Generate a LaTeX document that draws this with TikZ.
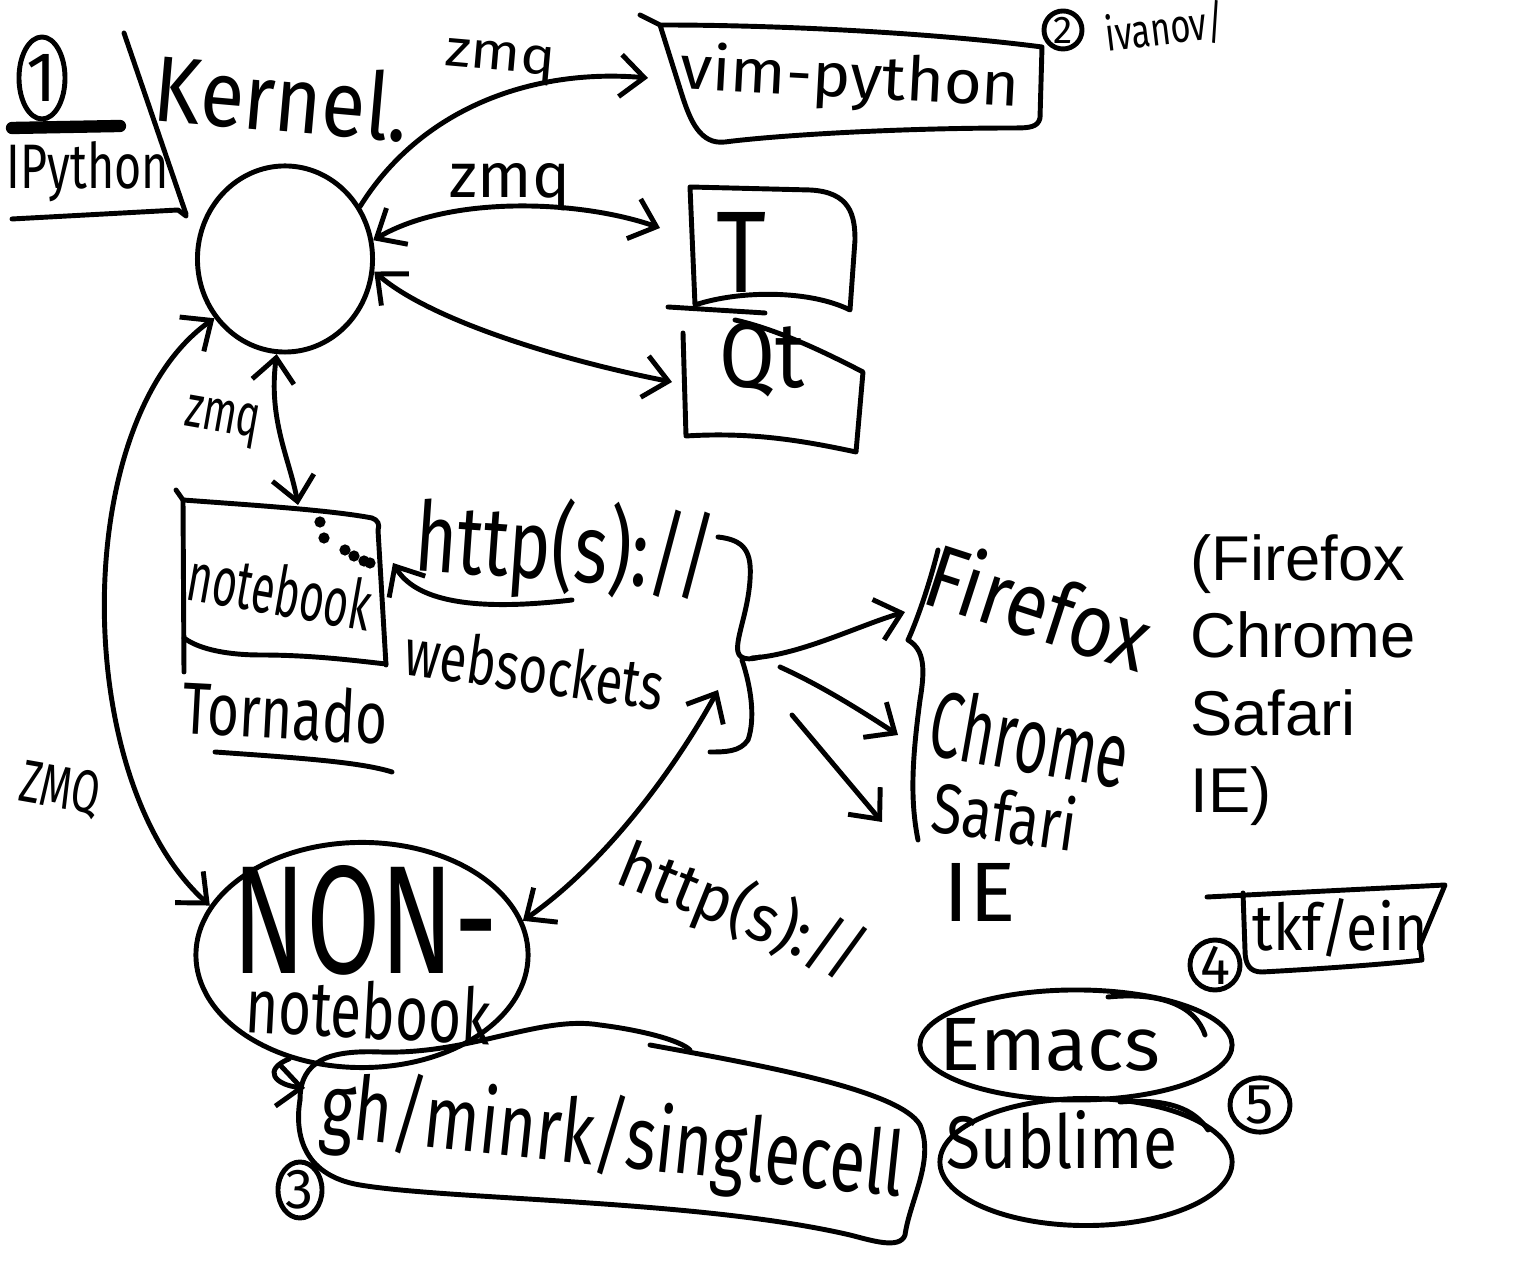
\documentclass[tikz,border=0pt]{standalone}
\usepackage{fontspec}
\setmainfont{Liberation Sans}
\newfontfamily\hand{Fira Sans}
\usetikzlibrary{arrows.meta,shapes.geometric}
\newcommand{\fw}[3]{\resizebox{#1cm}{#2cm}{\hand #3}}
\begin{document}
\begin{tikzpicture}[x=0.01cm,y=-0.01cm, line width=1.4pt, line cap=round, line join=round,
  arr/.style={-{Straight Barb[length=2.4mm,width=4.2mm]}},
  biarr/.style={{Straight Barb[length=2.4mm,width=4.2mm]}-{Straight Barb[length=2.4mm,width=4.2mm]}},
  lbl/.style={inner sep=0pt},
  numc/.style={draw, inner sep=0pt, font=\hand\fontsize{16}{16}\selectfont}]
\fill[white] (0,0) rectangle (1530,1271);
\useasboundingbox (0,0) rectangle (1530,1271);

% ---------- IPython corner ----------
\node[numc, ellipse, minimum width=0.46cm, minimum height=0.82cm, font=\hand\fontsize{20}{20}\selectfont] (n1) at (42,78) {1};
\draw[line width=3.5pt] (12,128) -- (120,126);
\node[lbl] (ipy) at (88,172) {\fw{1.62}{0.47}{IPython}};
\draw (124,33) -- (186,214);
\draw (12,219) -- (178,210) -- (186,216);
\node[lbl, rotate=-5] (kerneltxt) at (282,97) {\fw{2.55}{0.7}{Kernel.}};

% ---------- kernel ----------
\node[draw, ellipse, minimum width=1.75cm, minimum height=1.86cm] (kernel) at (285,259) {};

% ---------- vim-python ----------
\draw (640,15) -- (660,25) .. controls (800,25) and (950,35) .. (1042,47) -- (1040,118)
      .. controls (1038,127) and (1030,128) .. (1015,128)
      .. controls (900,128) and (780,135) .. (725,142)
      .. controls (700,145) and (690,120) .. (682,95) -- (660,25);
\node[lbl, rotate=-3] (vimtxt) at (850,80) {\fw{3.4}{0.48}{vim-python}};
\node[numc, circle, minimum size=0.38cm, font=\hand\fontsize{11}{11}\selectfont] (n2) at (1063,30) {2};
\node[lbl, rotate=7] (ivanov) at (1165,28) {\fw{1.2}{0.38}{ivanov/}};

% ---------- T and Qt ----------
\draw (690,187) -- (810,190) .. controls (850,192) and (855,215) .. (855,240) -- (850,310)
      .. controls (810,290) and (740,290) .. (695,305) -- (690,187);
\draw (668,307) -- (765,313);
\node[lbl] (Ttxt) at (742,252) {\fw{0.5}{0.8}{T}};
\draw (735,320) .. controls (780,330) and (830,355) .. (863,372) -- (856,452)
      .. controls (800,440) and (750,432) .. (686,436) -- (683,333);
\node[lbl] (Qttxt) at (762,360) {\fw{0.85}{0.65}{Qt}};

\coordinate (vimL) at (648,78);
\coordinate (Tl) at (660,228);
\coordinate (Qtl) at (672,382);
\draw[arr] (kernel.35) .. controls (420,110) and (530,68) .. (vimL);
\node[lbl, rotate=-5] (zmq1) at (500,62) {\fw{1.1}{0.28}{zmq}};
\draw[biarr] (kernel.12) .. controls (450,195) and (580,200) .. (Tl);
\node[lbl] (zmq2) at (510,187) {\fw{1.2}{0.34}{zmq}};
\draw[biarr] (kernel.-8) .. controls (430,320) and (560,360) .. (Qtl);

% ---------- notebook / Tornado ----------
\draw (176,490) -- (183,500) .. controls (250,505) and (330,510) .. (372,518)
      .. controls (378,520) and (380,525) .. (378,530) -- (386,665);
\draw (183,500) -- (184,672);
\draw (184,638) .. controls (200,650) and (230,655) .. (260,655) .. controls (310,655) and (350,660) .. (386,664);
\foreach \p in {(320,522),(324,538),(345,550),(354,556),(364,561),(370,563)} \fill \p circle[radius=1.6pt];
\node[lbl, rotate=-10] (nbtxt) at (280,590) {\fw{1.85}{0.52}{notebook}};
\node[lbl, rotate=-3] (tornado) at (285,712) {\fw{2.05}{0.55}{Tornado}};
\draw (215,752) .. controls (300,758) and (360,762) .. (392,772);

\coordinate (nbT) at (298,505);
\draw[biarr] (kernel.-95) .. controls (268,420) and (290,460) .. (nbT);
\node[lbl, rotate=-10] (zmq3) at (222,422) {\fw{0.75}{0.32}{zmq}};

% ---------- http(s) / websockets ----------
\node[lbl, rotate=-4] (http1) at (565,550) {\fw{3.0}{0.82}{http(s)://}};
\node[lbl, rotate=-8] (ws) at (535,668) {\fw{2.6}{0.5}{websockets}};
\coordinate (wsS) at (572,600);
\coordinate (nbR) at (393,563);
\draw[arr] (wsS) .. controls (470,612) and (415,600) .. (nbR);

% brace }
\draw (718,537) .. controls (745,540) and (752,552) .. (750,580)
      .. controls (748,612) and (735,640) .. (738,652) .. controls (740,660) and (750,660) .. (760,657);
\draw (742,660) .. controls (752,690) and (755,720) .. (748,740) .. controls (740,752) and (725,752) .. (710,752);
\coordinate (brtip) at (752,658);
\coordinate (brlow) at (718,690);

% ---------- browsers ----------
\draw (938,550) .. controls (928,590) and (915,625) .. (908,640)
      .. controls (925,650) and (925,670) .. (920,700) .. controls (912,760) and (910,800) .. (918,840);
\coordinate (ffA) at (905,612);
\coordinate (chS) at (780,667);
\coordinate (chA) at (898,735);
\coordinate (sfS) at (792,715);
\coordinate (sfA) at (882,822);
\draw[arr] (brtip) .. controls (800,655) and (860,625) .. (ffA);
\draw[arr] (chS) .. controls (820,685) and (860,710) .. (chA);
\draw[arr] (sfS) -- (sfA);
\node[lbl, rotate=-18] (fftxt) at (1040,605) {\fw{2.3}{0.7}{Firefox}};
\node[lbl, rotate=-10] (chtxt) at (1030,738) {\fw{2.0}{0.7}{Chrome}};
\node[lbl, rotate=-8] (sftxt) at (1005,815) {\fw{1.45}{0.55}{Safari}};
\node[lbl] (ietxt) at (980,892) {\fw{0.72}{0.58}{IE}};

\node[anchor=north west, align=left, inner sep=0pt, font=\fontsize{18}{22}\selectfont] (plist) at (1188,532)
  {(Firefox\\Chrome\\Safari\\IE)};

% ---------- NON-notebook ----------
\node[draw, ellipse, minimum width=3.32cm, minimum height=2.25cm] (nonnb) at (362,955) {};
\node[lbl] (NONtxt) at (365,920) {\fw{2.65}{1.08}{NON-}};
\node[lbl, rotate=-3] (nonnbtxt) at (368,1010) {\fw{2.45}{0.58}{notebook}};

\draw[biarr] (kernel.220) .. controls (70,420) and (70,780) .. (nonnb.162);
\node[lbl, rotate=-10] (zmq4) at (60,790) {\fw{0.8}{0.42}{ZMQ}};

\draw[biarr] (nonnb.12) .. controls (610,860) and (680,760) .. (brlow);
\node[lbl, rotate=-22] (http2) at (742,912) {\fw{2.6}{0.55}{http(s)://}};

% ---------- singlecell ----------
\draw (300,1100) .. controls (300,1060) and (330,1050) .. (380,1052)
      .. controls (470,1055) and (540,1015) .. (600,1025) .. controls (640,1030) and (680,1040) .. (690,1050);
\draw (650,1045) .. controls (760,1065) and (900,1090) .. (920,1125)
      .. controls (935,1160) and (910,1200) .. (905,1235) .. controls (900,1250) and (870,1240) .. (850,1235)
      .. controls (700,1200) and (450,1200) .. (360,1185) .. controls (300,1175) and (295,1130) .. (300,1100);
\node[lbl, rotate=-6] (ghtxt) at (612,1140) {\fw{5.85}{0.72}{gh/minrk/singlecell}};
\coordinate (ghL) at (305,1088);
\draw[arr] (nonnb.235) .. controls (262,1070) and (275,1085) .. (ghL);
\node[numc, ellipse, minimum width=0.44cm, minimum height=0.56cm] (n3) at (300,1190) {3};

% ---------- tkf/ein, Emacs, Sublime ----------
\draw (1207,897) -- (1445,885) -- (1420,945) -- (1422,960)
      .. controls (1380,965) and (1300,970) .. (1262,972) .. controls (1250,972) and (1245,965) .. (1245,950) -- (1243,893);
\node[lbl] (tkf) at (1340,928) {\fw{1.75}{0.52}{tkf/ein}};
\node[numc, circle, minimum size=0.5cm] (n4) at (1215,965) {4};

\node[draw, ellipse, minimum width=3.12cm, minimum height=1.1cm] (emacs) at (1076,1045) {};
\draw (1108,997) .. controls (1160,992) and (1195,1005) .. (1205,1035);
\node[lbl] (emacstxt) at (1050,1045) {\fw{2.2}{0.52}{Emacs}};
\node[draw, ellipse, minimum width=2.92cm, minimum height=1.27cm] (sublime) at (1086,1162) {};
\draw (1120,1102) .. controls (1170,1098) and (1195,1110) .. (1208,1130);
\node[lbl] (sublimetxt) at (1062,1140) {\fw{2.3}{0.58}{Sublime}};
\node[numc, ellipse, minimum width=0.6cm, minimum height=0.46cm] (n5) at (1260,1105) {5};
\end{tikzpicture}
\end{document}
